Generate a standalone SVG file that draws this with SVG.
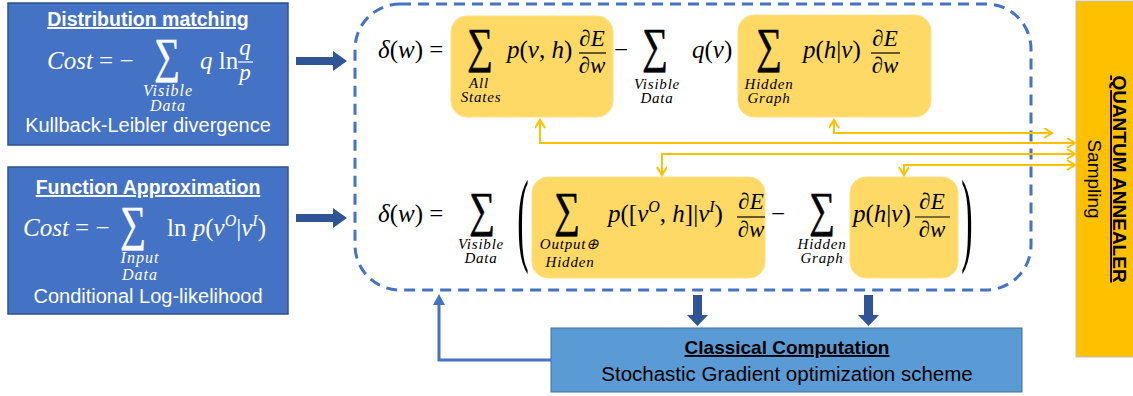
<svg xmlns="http://www.w3.org/2000/svg" width="1133" height="396" viewBox="0 0 1133 396">
<defs>
<style>
.lbox{fill:#4472C4;stroke:#2F528F;stroke-width:1.5}
.ttl{font-family:"Liberation Sans",Arial,sans-serif;font-weight:bold;font-size:19.5px;fill:#fff;text-decoration:underline;text-anchor:middle}
.sub{font-family:"Liberation Sans",Arial,sans-serif;font-size:20px;fill:#fff;text-anchor:middle}
.m{font-family:"Liberation Serif","Times New Roman",serif;font-size:25px;fill:#000}
.mw{font-family:"Liberation Serif","Times New Roman",serif;font-size:25px;fill:#fff}
.fr{font-size:23px;font-style:italic;text-anchor:middle}
.i{font-style:italic}
.sl{font-family:"Liberation Serif","Times New Roman",serif;font-style:italic;font-size:15px;letter-spacing:0.8px;text-anchor:middle;fill:#000}
.slw{font-family:"Liberation Serif","Times New Roman",serif;font-style:italic;font-size:16px;letter-spacing:1px;text-anchor:middle;fill:#fff}
.sig{font-family:"Liberation Serif","Times New Roman",serif;font-size:36px;text-anchor:middle;stroke-width:0.5}
.big{font-size:104px;text-anchor:middle}
.ybox{fill:#FFD966;stroke:#FFE08A;stroke-width:1}
.yc{fill:none;stroke:#FFC000;stroke-width:2;marker-start:url(#chev);marker-end:url(#chev)}
.fl{stroke:#000;stroke-width:1.2}
.flw{stroke:#fff;stroke-width:1.2}
.thick{fill:#2F5597}
</style>
<marker id="chev" markerWidth="12" markerHeight="12" refX="9" refY="5" orient="auto-start-reverse" markerUnits="userSpaceOnUse">
<path d="M1,0 L9,5 L1,10" fill="none" stroke="#FFC000" stroke-width="2"/>
</marker>
</defs>
<rect width="1133" height="396" fill="#fff"/>

<g id="distribution-matching">
<rect class="lbox" x="8" y="3" width="280" height="142"/>
<text class="ttl" x="148" y="26">Distribution matching</text>
<text class="mw" x="47" y="69"><tspan class="i">Cost</tspan> = −</text>
<text class="sig" x="167" y="72" fill="#fff" stroke="#fff" transform="translate(167,72) scale(1,1.35) translate(-167,-72)">∑</text>
<text class="mw" x="200" y="69"><tspan class="i">q</tspan> ln</text>
<text class="mw fr" x="245" y="55">q</text>
<line class="flw" x1="238" y1="62" x2="253" y2="62"/>
<text class="mw fr" x="245" y="80">p</text>
<text class="slw" x="168" y="96">Visible</text>
<text class="slw" x="168" y="111">Data</text>
<text class="sub" x="148" y="132">Kullback-Leibler divergence</text>
</g>

<g id="function-approximation">
<rect class="lbox" x="8" y="167" width="280" height="147"/>
<text class="ttl" x="148" y="194">Function Approximation</text>
<text class="mw" x="23" y="236"><tspan class="i">Cost</tspan> = −</text>
<text class="sig" x="133" y="240" fill="#fff" stroke="#fff" transform="translate(133,240) scale(1,1.35) translate(-133,-240)">∑</text>
<text class="mw" x="167" y="236">ln <tspan class="i">p</tspan>(<tspan class="i">v</tspan><tspan class="i" font-size="16" dy="-10">O</tspan><tspan dy="10">|</tspan><tspan class="i">v</tspan><tspan class="i" font-size="16" dy="-10">I</tspan><tspan dy="10">)</tspan></text>
<text class="slw" x="140" y="263">Input</text>
<text class="slw" x="140" y="280">Data</text>
<text class="sub" x="148" y="303">Conditional Log-likelihood</text>
</g>

<g id="quantum-annealer">
<rect x="1076" y="1" width="60" height="356" fill="#FFC000" stroke="#BFBFBF" stroke-width="1"/>
<text x="1113" y="179" transform="rotate(90 1113 179)" font-family="Liberation Sans,Arial,sans-serif" font-weight="bold" font-size="19" text-anchor="middle" text-decoration="underline">QUANTUM ANNEALER</text>
<text x="1088" y="179" transform="rotate(90 1088 179)" font-family="Liberation Sans,Arial,sans-serif" font-size="19" text-anchor="middle">Sampling</text>
</g>

<g id="gradient-frame">
<rect x="355" y="4" width="676" height="286" rx="45" ry="45" fill="none" stroke="#4472C4" stroke-width="3" stroke-dasharray="11 7"/>
</g>

<g id="term-all-states">
<rect class="ybox" x="451" y="16" width="162" height="101" rx="16"/>
</g>
<g id="term-hidden-graph-top">
<rect class="ybox" x="738" y="15" width="193" height="102" rx="16"/>
</g>
<g id="term-output-hidden">
<rect class="ybox" x="532" y="177" width="233" height="101" rx="16"/>
</g>
<g id="term-hidden-graph-bottom">
<rect class="ybox" x="850" y="177" width="108" height="101" rx="16"/>
</g>

<g id="formula-top">
<text class="m" x="378" y="58"><tspan class="i">δ</tspan>(<tspan class="i">w</tspan>) =</text>
<text class="sig" x="480" y="62" stroke="#000" transform="translate(480,62) scale(1,1.35) translate(-480,-62)">∑</text>
<text class="sl" x="479" y="88">All</text>
<text class="sl" x="481" y="102">States</text>
<text class="m" x="507" y="58"><tspan class="i">p</tspan>(<tspan class="i">v</tspan>, <tspan class="i">h</tspan>)</text>
<text class="m fr" x="592" y="46">∂E</text>
<line class="fl" x1="579" y1="53" x2="606" y2="53"/>
<text class="m fr" x="592" y="73">∂w</text>
<text class="m" x="621" y="58" text-anchor="middle">−</text>
<text class="sig" x="655" y="62" stroke="#000" transform="translate(655,62) scale(1,1.35) translate(-655,-62)">∑</text>
<text class="sl" x="657" y="89">Visible</text>
<text class="sl" x="657" y="103">Data</text>
<text class="m" x="692" y="58"><tspan class="i">q</tspan>(<tspan class="i">v</tspan>)</text>
<text class="sig" x="769" y="62" stroke="#000" transform="translate(769,62) scale(1,1.35) translate(-769,-62)">∑</text>
<text class="sl" x="769" y="89">Hidden</text>
<text class="sl" x="769" y="103">Graph</text>
<text class="m" x="803" y="58"><tspan class="i">p</tspan>(<tspan class="i">h</tspan>|<tspan class="i">v</tspan>)</text>
<text class="m fr" x="885" y="46">∂E</text>
<line class="fl" x1="871" y1="53" x2="900" y2="53"/>
<text class="m fr" x="885" y="73">∂w</text>
</g>

<g id="formula-bottom">
<text class="m" x="378" y="222"><tspan class="i">δ</tspan>(<tspan class="i">w</tspan>) =</text>
<text class="sig" x="482" y="226" stroke="#000" transform="translate(482,226) scale(1,1.35) translate(-482,-226)">∑</text>
<text class="sl" x="481" y="249">Visible</text>
<text class="sl" x="481" y="263">Data</text>
<text class="m big" x="523" y="252" transform="translate(523,252) scale(0.33,1) translate(-523,-252)">(</text>
<text class="sig" x="567" y="226" stroke="#000" transform="translate(567,226) scale(1,1.35) translate(-567,-226)">∑</text>
<text class="sl" x="570" y="249">Output⊕</text>
<text class="sl" x="570" y="267">Hidden</text>
<text class="m" x="608" y="222"><tspan class="i">p</tspan>([<tspan class="i">v</tspan><tspan class="i" font-size="16" dy="-10">O</tspan><tspan dy="10">, </tspan><tspan class="i">h</tspan>]|<tspan class="i">v</tspan><tspan class="i" font-size="16" dy="-10">I</tspan><tspan dy="10">)</tspan></text>
<text class="m fr" x="751" y="209">∂E</text>
<line class="fl" x1="737" y1="217" x2="765" y2="217"/>
<text class="m fr" x="751" y="237">∂w</text>
<text class="m" x="778" y="222" text-anchor="middle">−</text>
<text class="sig" x="822" y="226" stroke="#000" transform="translate(822,226) scale(1,1.35) translate(-822,-226)">∑</text>
<text class="sl" x="822" y="249">Hidden</text>
<text class="sl" x="822" y="263">Graph</text>
<text class="m" x="853" y="222"><tspan class="i">p</tspan>(<tspan class="i">h</tspan>|<tspan class="i">v</tspan>)</text>
<text class="m fr" x="932" y="209">∂E</text>
<line class="fl" x1="915" y1="217" x2="950" y2="217"/>
<text class="m fr" x="932" y="237">∂w</text>
<text class="m big" x="967" y="252" transform="translate(967,252) scale(0.33,1) translate(-967,-252)">)</text>
</g>

<g id="classical-computation">
<rect x="551" y="328" width="471" height="64" fill="#5B9BD5" stroke="#41719C" stroke-width="1"/>
<text x="787" y="354" font-family="Liberation Sans,Arial,sans-serif" font-weight="bold" font-size="19" text-anchor="middle" text-decoration="underline">Classical Computation</text>
<text x="787" y="381" font-family="Liberation Sans,Arial,sans-serif" font-size="20.5" text-anchor="middle">Stochastic Gradient optimization scheme</text>
</g>

<g id="connectors">
<path class="thick" d="M296,57 H333 V51 L347,61 L333,71 V65 H296 Z"/>
<path class="thick" d="M296,214 H333 V208 L347,218 L333,228 V222 H296 Z"/>
<path class="thick" d="M693,295 H702 V315 H708 L697.5,326 L687,315 H693 Z"/>
<path class="thick" d="M864,295 H873 V315 H879 L868.5,326 L858,315 H864 Z"/>
<path d="M551,360 H439 V304" fill="none" stroke="#4472C4" stroke-width="3"/>
<path d="M433,305 L439,294 L445,305 Z" fill="#4472C4"/>
<path class="yc" d="M834,120 V133 H1052"/>
<path class="yc" d="M540,120 V143 H1075"/>
<path class="yc" d="M1075,154 H662 V175"/>
<path class="yc" d="M1075,165 H904 V175"/>
</g>
</svg>
